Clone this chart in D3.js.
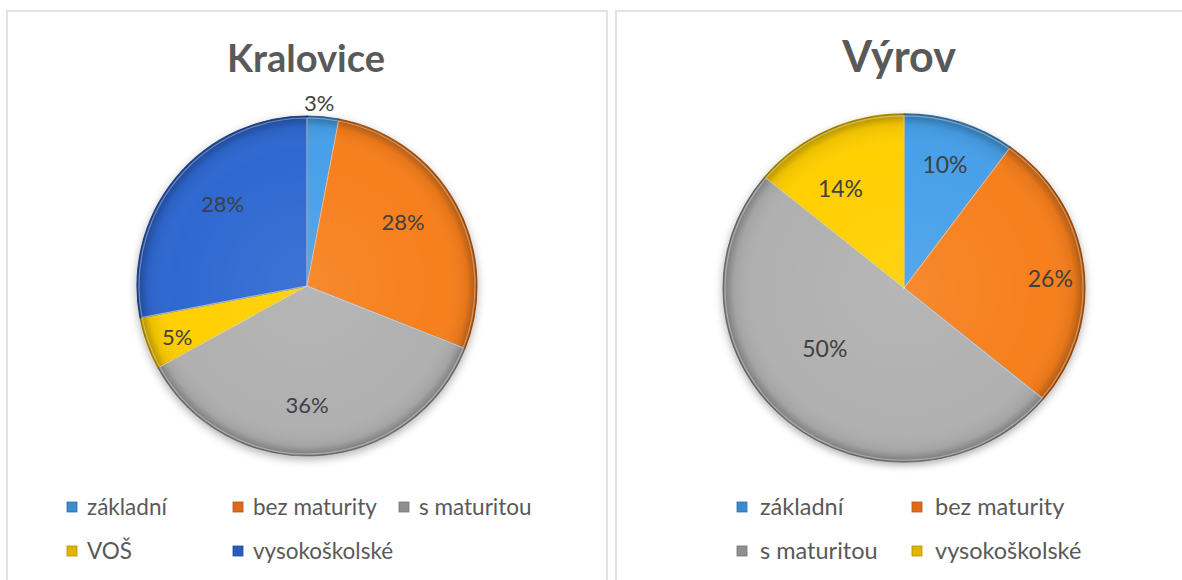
<!DOCTYPE html>
<html>
<head>
<meta charset="utf-8">
<script src="https://cdn.jsdelivr.net/npm/d3@7"></script>
<style>
  body { margin: 0; background: #fff; }
  svg { display: block; font-family: Lato, "Noto Sans", sans-serif; }
</style>
</head>
<body>
<div id="chart"></div>
<script>
// data
const kralCategories = ["základní", "bez maturity", "s maturitou", "VOŠ", "vysokoškolské"];
const kralValues = [3, 28, 36, 5, 28];
const vyrovCategories = ["základní", "bez maturity", "s maturitou", "vysokoškolské"];
const vyrovValues = [10, 26, 50, 14];

// excel palette (by series position)
const sliceColors = ["#46a0e9", "#f77f1d", "#b0b0b0", "#ffcf00", "#2e68d1"];
const markerColors = ["#3a8ad0", "#de6a18", "#8f8f8f", "#e0b400", "#2a5cbf"];

const width = 1182, height = 580;

const svg = d3.select("#chart").append("svg")
  .attr("width", width)
  .attr("height", height);

const defs = svg.append("defs");

// soft shadow under each pie
const shadow = defs.append("filter").attr("id", "shadow")
  .attr("x", "-20%").attr("y", "-20%").attr("width", "140%").attr("height", "140%");
shadow.append("feDropShadow")
  .attr("dx", 0).attr("dy", 3).attr("stdDeviation", 4)
  .attr("flood-color", "#000").attr("flood-opacity", 0.3);

// rim darkening for the bevel look
const rim = defs.append("radialGradient").attr("id", "rim");
rim.append("stop").attr("offset", "0%").attr("stop-color", "#fff").attr("stop-opacity", 0.08);
rim.append("stop").attr("offset", "80%").attr("stop-color", "#fff").attr("stop-opacity", 0);
rim.append("stop").attr("offset", "94%").attr("stop-color", "#000").attr("stop-opacity", 0.07);
rim.append("stop").attr("offset", "100%").attr("stop-color", "#000").attr("stop-opacity", 0.32);

// panel frames
svg.append("rect").attr("x", 7).attr("y", 11).attr("width", 600).attr("height", 600)
  .attr("fill", "none").attr("stroke", "#d9d9d9").attr("stroke-width", 1.5);
svg.append("rect").attr("x", 616).attr("y", 11).attr("width", 600).attr("height", 600)
  .attr("fill", "none").attr("stroke", "#d9d9d9").attr("stroke-width", 1.5);

function drawPie(opt) {
  const g = svg.append("g");

  g.append("text")
    .attr("x", opt.titleX).attr("y", 72)
    .attr("text-anchor", "middle")
    .attr("font-size", opt.titleSize).attr("font-weight", "bold")
    .attr("fill", "#595959")
    .text(opt.title);

  const pie = d3.pie().sort(null);
  const arcs = pie(opt.values);
  const arc = d3.arc().innerRadius(0).outerRadius(opt.r);

  const pieG = g.append("g")
    .attr("transform", `translate(${opt.cx},${opt.cy}) scale(1,${opt.sy})`);

  const body = pieG.append("g").attr("filter", "url(#shadow)");
  body.selectAll("path.slice")
    .data(arcs)
    .enter().append("path")
    .attr("class", "slice")
    .attr("d", arc)
    .attr("fill", (d, i) => sliceColors[i])
    .attr("stroke", (d, i) => d3.color(sliceColors[i]).darker(0.9))
    .attr("stroke-width", 1.2);

  pieG.append("circle").attr("r", opt.r).attr("fill", "url(#rim)").attr("pointer-events", "none");

  // light inner edges of slices
  pieG.selectAll("path.edge")
    .data(arcs)
    .enter().append("path")
    .attr("class", "edge")
    .attr("d", d3.arc().innerRadius(0).outerRadius(opt.r - 2))
    .attr("fill", "none")
    .attr("stroke", "rgba(255,255,255,0.35)")
    .attr("stroke-width", 1.2);

  // percentage labels (excel "best fit": radius fraction + small angle shift)
  const total = d3.sum(opt.values);
  const labelAngle = (d, i) => (d.startAngle + d.endAngle) / 2 + opt.labelShift[i] * Math.PI / 180;
  const labels = g.append("g").attr("transform", `translate(${opt.cx},${opt.cy})`);
  labels.selectAll("text")
    .data(arcs)
    .enter().append("text")
    .attr("x", (d, i) => Math.sin(labelAngle(d, i)) * opt.r * opt.labelR[i])
    .attr("y", (d, i) => -Math.cos(labelAngle(d, i)) * opt.r * opt.labelR[i] * opt.sy)
    .attr("dy", "0.35em")
    .attr("text-anchor", "middle")
    .attr("font-size", opt.labelSize)
    .attr("fill", "#404040")
    .text(d => Math.round(d.value / total * 100) + "%");

  // legend
  const legend = g.append("g");
  const items = legend.selectAll("g")
    .data(opt.categories)
    .enter().append("g")
    .attr("transform", (d, i) => `translate(${opt.legendX + (i % opt.cols) * opt.colW},${507 + Math.floor(i / opt.cols) * 44})`);
  items.append("rect")
    .attr("x", 0).attr("y", -5).attr("width", 10).attr("height", 10)
    .attr("fill", (d, i) => markerColors[i])
    .attr("stroke", (d, i) => d3.color(markerColors[i]).darker(0.6))
    .attr("stroke-width", 0.8);
  items.append("text")
    .attr("x", opt.textGap).attr("dy", "0.35em")
    .attr("font-size", opt.legendSize)
    .attr("fill", "#595959")
    .text(d => d);
}

drawPie({
  title: "Kralovice", titleX: 306, titleSize: 38,
  categories: kralCategories, values: kralValues,
  cx: 307, cy: 286, r: 170, sy: 1,
  labelR: [1.08, 0.68, 0.7, 0.82, 0.69],
  labelShift: [-1.6, -4.9, 3.6, -1.6, 4.4],
  labelSize: 22,
  legendX: 67, cols: 3, colW: 166, textGap: 20, legendSize: 22.5
});

drawPie({
  title: "Výrov", titleX: 899, titleSize: 43,
  categories: vyrovCategories, values: vyrovValues,
  cx: 904, cy: 288, r: 181, sy: 0.962,
  labelR: [0.74, 0.81, 0.56, 0.67],
  labelShift: [-0.2, 3.7, 11.8, -6.4],
  labelSize: 23,
  legendX: 737, cols: 2, colW: 175, textGap: 23, legendSize: 23.5
});
</script>
</body>
</html>
